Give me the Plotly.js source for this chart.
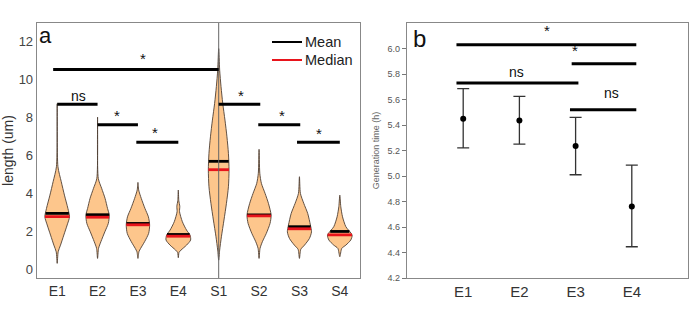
<!DOCTYPE html>
<html>
<head>
<meta charset="utf-8">
<script src="https://cdn.plot.ly/plotly-3.0.1.min.js"></script>
<style>
  html, body { margin: 0; padding: 0; background: #fff; }
  #chart { width: 689px; height: 324px; }
</style>
</head>
<body>
<div id="chart"></div>
<script>
// ---- Panel a: cell length distributions ----
const groups = ['E1', 'E2', 'E3', 'E4', 'S1', 'S2', 'S3', 'S4'];

// Outline of each violin: length levels (um) and relative density (1 = widest)
const violinLevels = [
  [0.30, 0.91, 1.26, 1.79, 2.32, 2.75, 3.19, 3.89, 4.60, 5.39, 8.70],
  [0.56, 1.09, 1.44, 1.96, 2.40, 2.84, 3.19, 3.72, 4.25, 4.77, 8.00],
  [0.56, 0.91, 1.09, 1.44, 1.88, 2.32, 2.75, 3.19, 3.72, 4.16, 4.56],
  [0.60, 0.88, 1.00, 1.26, 1.53, 1.79, 2.05, 2.49, 3.02, 3.30, 3.60, 4.16],
  [0.47, 1.00, 1.70, 2.58, 3.46, 4.33, 5.21, 6.09, 6.96, 7.84, 8.72, 9.60, 10.47, 11.60],
  [0.56, 1.09, 1.44, 1.88, 2.40, 2.84, 3.46, 3.98, 4.51, 5.04, 6.30],
  [0.56, 1.04, 1.26, 1.61, 1.96, 2.32, 2.93, 3.46, 3.98, 4.86],
  [0.65, 1.09, 1.26, 1.53, 1.79, 2.23, 2.75, 3.28, 3.89]
];
const violinDensity = [
  [0, 0.08, 0.27, 0.54, 0.81, 1.00, 0.87, 0.59, 0.33, 0.06, 0],
  [0, 0.08, 0.27, 0.59, 0.87, 0.95, 0.81, 0.61, 0.33, 0.06, 0],
  [0, 0.08, 0.22, 0.54, 0.87, 0.95, 0.85, 0.57, 0.27, 0.06, 0],
  [0, 0.06, 0.22, 0.67, 1.00, 0.95, 0.67, 0.33, 0.10, 0.12, 0.04, 0],
  [0, 0.08, 0.22, 0.43, 0.63, 0.79, 0.84, 0.79, 0.67, 0.51, 0.33, 0.19, 0.08, 0],
  [0, 0.08, 0.27, 0.59, 0.89, 0.98, 0.76, 0.49, 0.19, 0.06, 0],
  [0, 0.11, 0.41, 0.81, 0.98, 0.89, 0.67, 0.35, 0.08, 0],
  [0, 0.16, 0.49, 0.89, 1.00, 0.49, 0.22, 0.08, 0]
];
const lengthMean   = [2.93, 2.86, 2.40, 1.82, 5.67, 2.85, 2.23, 1.98];
const lengthMedian = [2.76, 2.73, 2.33, 1.73, 5.23, 2.80, 2.12, 1.80];

// Significance brackets for panel a
const sigA_x0    = [-0.10, 0.00, 1.00, 1.96, 4.00, 4.98, 5.94];
const sigA_x1    = [ 4.00, 1.00, 2.00, 3.00, 5.03, 6.02, 7.00];
const sigA_y     = [10.50, 8.68, 7.60, 6.67, 8.68, 7.60, 6.67];
const sigA_textX = [ 2.13, 0.54, 1.48, 2.43, 4.55, 5.56, 6.49];
const sigA_textY = [10.91, 9.07, 7.93, 7.02, 8.98, 7.93, 6.96];
const sigA_text  = ['*', 'ns', '*', '*', '*', '*', '*'];

// ---- Panel b: generation time ----
const strains   = ['E1', 'E2', 'E3', 'E4'];
const genMean   = [5.450, 5.435, 5.235, 4.760];
const genUpper  = [5.685, 5.625, 5.460, 5.085];
const genLower  = [5.220, 5.250, 5.010, 4.445];
const genTicks  = [4.2, 4.4, 4.6, 4.8, 5.0, 5.2, 5.4, 5.6, 5.8, 6.0];

const sigB_x0    = [-0.12, 1.93, -0.12, 1.90];
const sigB_x1    = [ 3.08, 3.08,  2.05, 3.08];
const sigB_y     = [ 6.03, 5.88,  5.73, 5.52];
const sigB_textX = [ 1.49, 1.99,  0.94, 2.63];
const sigB_textY = [ 6.12, 5.96,  5.81, 5.64];
const sigB_text  = ['*', '*', 'ns', 'ns'];

// ---- build figure ----
const MAX_HALF = 0.305;   // half-width of the widest violin, in category units
const FONT = 'Liberation Sans, Arial, sans-serif';

function halfWidthAt(levels, dens, y) {
  for (let k = 0; k < levels.length - 1; k++) {
    if (y >= levels[k] && y <= levels[k + 1]) {
      const t = (y - levels[k]) / (levels[k + 1] - levels[k]);
      return MAX_HALF * (dens[k] + t * (dens[k + 1] - dens[k]));
    }
  }
  return 0;
}

const traces = [];

groups.forEach((g, i) => {
  const lv = violinLevels[i], dn = violinDensity[i];
  const xs = [], ys = [];
  for (let k = 0; k < lv.length; k++) { xs.push(i + MAX_HALF * dn[k]); ys.push(lv[k]); }
  for (let k = lv.length - 2; k >= 0; k--) { xs.push(i - MAX_HALF * dn[k]); ys.push(lv[k]); }
  traces.push({
    type: 'scatter', mode: 'lines', x: xs, y: ys, xaxis: 'x', yaxis: 'y',
    fill: 'toself', fillcolor: '#fdc68c',
    line: { color: '#4f4034', width: 0.9, shape: 'spline', smoothing: 0.7 },
    showlegend: false, hoverinfo: 'skip'
  });
});

function statLine(values, color) {
  const xs = [], ys = [];
  values.forEach((v, i) => {
    const w = halfWidthAt(violinLevels[i], violinDensity[i], v);
    xs.push(i - w, i + w, null);
    ys.push(v, v, null);
  });
  return {
    type: 'scatter', mode: 'lines', x: xs, y: ys, xaxis: 'x', yaxis: 'y',
    line: { color: color, width: 2.8 }, showlegend: false, hoverinfo: 'skip'
  };
}
traces.push(statLine(lengthMean, '#000000'));
traces.push(statLine(lengthMedian, '#e8141c'));

traces.push({
  type: 'scatter', mode: 'markers', x: strains.map((s, i) => i), y: genMean,
  xaxis: 'x2', yaxis: 'y2', showlegend: false,
  marker: { color: '#000', size: 6 },
  error_y: {
    type: 'data', symmetric: false,
    array: genUpper.map((u, i) => u - genMean[i]),
    arrayminus: genLower.map((l, i) => genMean[i] - l),
    color: '#333', thickness: 1.3, width: 6
  }
});

const shapes = [];
const annotations = [];

// separator through S1
shapes.push({ type: 'line', xref: 'x', yref: 'y domain', x0: 4, x1: 4, y0: 0, y1: 1,
  line: { color: '#666', width: 1 } });

function sigLabel(xref, yref, x, y, text) {
  const star = text === '*';
  return { xref: xref, yref: yref, x: x, y: y, text: text, showarrow: false,
    xanchor: 'center', yanchor: 'middle', yshift: star ? 3 : 1,
    font: { family: FONT, size: star ? 15 : 14, color: '#111' } };
}

sigA_y.forEach((y, k) => {
  shapes.push({ type: 'line', xref: 'x', yref: 'y', x0: sigA_x0[k], x1: sigA_x1[k], y0: y, y1: y,
    line: { color: '#000', width: 3 } });
  annotations.push(sigLabel('x', 'y', sigA_textX[k], sigA_textY[k], sigA_text[k]));
});

sigB_y.forEach((y, k) => {
  shapes.push({ type: 'line', xref: 'x2', yref: 'y2', x0: sigB_x0[k], x1: sigB_x1[k], y0: y, y1: y,
    line: { color: '#000', width: 3 } });
  annotations.push(sigLabel('x2', 'y2', sigB_textX[k], sigB_textY[k], sigB_text[k]));
});

// key for the mean / median lines
const keyItems = [{ label: 'Mean', color: '#000000', top: 42 }, { label: 'Median', color: '#e8141c', top: 60 }];
keyItems.forEach(item => {
  const yp = 1 - item.top / 324;
  shapes.push({ type: 'line', xref: 'paper', yref: 'paper', x0: 272 / 689, x1: 302 / 689, y0: yp, y1: yp,
    line: { color: item.color, width: 2 } });
  annotations.push({ xref: 'paper', yref: 'paper', x: 303 / 689, y: yp, text: item.label,
    showarrow: false, xanchor: 'left', yanchor: 'middle',
    font: { family: FONT, size: 14.5, color: '#222' } });
});

annotations.push({ xref: 'paper', yref: 'paper', x: 45 / 689, y: 1 - 35 / 324, text: 'a',
  showarrow: false, xanchor: 'center', yanchor: 'middle', font: { family: FONT, size: 22, color: '#111' } });
annotations.push({ xref: 'paper', yref: 'paper', x: 420 / 689, y: 1 - 39 / 324, text: 'b',
  showarrow: false, xanchor: 'center', yanchor: 'middle', font: { family: FONT, size: 24, color: '#111' } });

const frame = { showline: true, mirror: true, linecolor: '#888', linewidth: 1.3,
  showgrid: false, zeroline: false, fixedrange: true };

const layout = {
  width: 689, height: 324,
  margin: { l: 0, r: 0, t: 0, b: 0 },
  paper_bgcolor: '#fff', plot_bgcolor: '#fff',
  font: { family: FONT },
  showlegend: false,
  xaxis: Object.assign({}, frame, {
    domain: [37 / 689, 360 / 689], range: [-0.5, 7.5],
    tickmode: 'array', tickvals: groups.map((g, i) => i), ticktext: groups,
    ticks: '', tickfont: { family: FONT, size: 14, color: '#333' }
  }),
  yaxis: Object.assign({}, frame, {
    domain: [1 - 278 / 324, 1 - 23 / 324], range: [-0.47, 12.95],
    tickmode: 'array', tickvals: [0, 2, 4, 6, 8, 10, 12],
    ticks: '', tickfont: { family: FONT, size: 13, color: '#444' },
    title: { text: 'length (um)', font: { family: FONT, size: 14, color: '#333' } }
  }),
  xaxis2: Object.assign({}, frame, {
    anchor: 'y2',
    domain: [407 / 689, 688 / 689], range: [-1, 4],
    tickmode: 'array', tickvals: strains.map((s, i) => i), ticktext: strains,
    ticks: '', tickfont: { family: FONT, size: 15, color: '#333' }
  }),
  yaxis2: Object.assign({}, frame, {
    anchor: 'x2',
    domain: [1 - 278 / 324, 1 - 23 / 324], range: [4.2, 6.2],
    tickmode: 'array', tickvals: genTicks, tickformat: '.1f',
    ticks: 'outside', ticklen: 4, tickcolor: '#777', tickwidth: 1,
    tickfont: { family: FONT, size: 9, color: '#555' },
    title: { text: 'Generation time (h)', font: { family: FONT, size: 9, color: '#666' } }
  }),
  shapes: shapes,
  annotations: annotations
};

Plotly.newPlot('chart', traces, layout, { staticPlot: true, displayModeBar: false });
</script>
</body>
</html>
